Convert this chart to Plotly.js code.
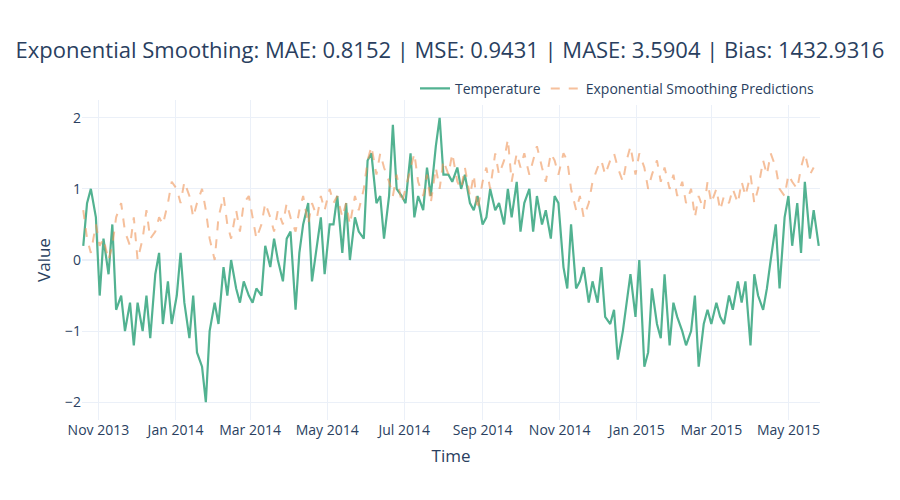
<!DOCTYPE html>
<html><head><script src="https://cdn.plot.ly/plotly-3.0.1.min.js"></script></head>
<body style="margin:0"><div id="c" style="width:900px;height:500px"></div>
<script>
const startDate = "2013-10-20";
const endDate = "2015-05-25";
const temperature = [
0.2,0.8,1.0,0.6,-0.5,0.3,-0.2,0.5,-0.7,-0.5,
-1.0,-0.6,-1.2,-0.6,-1.0,-0.5,-1.1,-0.2,0.1,
-0.9,-0.3,-0.9,-0.5,0.1,-0.6,-1.1,-0.5,-1.3,-1.5,-2.0,
-1.0,-0.6,-0.9,-0.1,-0.5,0.0,-0.4,-0.6,-0.3,
-0.5,-0.6,-0.4,-0.5,0.2,-0.1,0.3,0.0,-0.3,0.3,
0.4,-0.7,0.1,0.5,0.8,-0.3,0.2,0.6,-0.2,0.5,
0.5,0.9,0.1,0.8,0.0,0.6,0.4,0.3,1.4,
1.5,0.8,0.9,0.3,0.9,1.9,1.0,0.9,0.8,
1.5,0.6,0.9,0.7,1.3,0.9,1.6,2.0,1.2,1.2,
1.1,1.3,1.0,1.2,0.8,0.7,0.9,0.5,0.6,
1.0,0.7,0.8,0.5,1.0,0.6,1.1,0.4,0.8,
1.0,0.4,0.9,0.5,0.7,0.3,0.9,0.8,-0.1,-0.4,
0.5,-0.4,-0.3,-0.1,-0.6,-0.3,-0.6,-0.1,-0.8,
-0.9,-0.7,-1.4,-1.0,-0.6,-0.2,-0.8,0.0,-1.5,
-1.3,-0.4,-0.9,-1.1,-0.2,-1.2,-0.6,-0.8,-1.0,-1.2,
-1.0,-0.5,-1.5,-0.9,-0.7,-0.9,-0.6,-0.8,
-0.9,-0.5,-0.7,-0.3,-0.6,-0.3,-1.2,-0.2,-0.5,
-0.7,-0.4,0.0,0.5,-0.4,0.6,0.9,0.2,0.8,
0.1,1.1,0.3,0.7,0.2];
const predictions = [
0.7,0.3,0.1,0.5,0.2,0.3,0.0,0.2,0.6,0.8,
0.4,0.2,0.6,0.0,0.3,0.7,0.3,0.4,0.6,
0.5,0.8,1.1,1.0,0.8,1.1,0.9,0.6,0.8,1.0,0.7,
0.3,0.0,0.6,0.9,0.5,0.3,0.7,0.4,0.8,
0.9,0.6,0.3,0.5,0.8,0.6,0.4,0.7,0.5,
0.8,0.6,0.4,0.7,0.9,0.5,0.8,0.6,0.9,0.7,
1.0,0.8,0.9,0.6,0.8,0.5,0.9,0.7,1.0,
1.4,1.6,1.2,1.5,1.3,1.1,0.9,1.2,0.8,
1.0,1.3,1.5,1.1,0.9,1.2,0.8,1.3,1.0,1.4,
1.2,1.5,1.1,1.0,1.3,0.9,1.2,0.7,1.1,
1.3,1.0,1.5,1.2,1.4,1.7,1.1,1.5,1.3,
1.5,1.2,1.4,1.6,1.3,1.1,1.5,1.4,1.2,1.5,
1.4,1.0,0.7,0.9,0.6,0.8,1.1,1.3,1.4,
1.2,1.4,1.5,1.3,1.1,1.4,1.6,1.2,1.5,
1.3,1.0,1.2,1.4,1.1,1.3,1.0,1.2,0.9,1.1,
0.8,1.0,0.6,0.9,0.7,1.1,0.8,1.0,
0.7,0.9,0.8,1.0,0.8,1.1,0.9,1.2,0.8,
1.0,1.4,1.2,1.5,1.3,1.0,0.9,1.2,1.1,
1.0,1.3,1.5,1.2,1.3];
const t0 = Date.parse(startDate), t1 = Date.parse(endDate);
const n = temperature.length;
const dates = temperature.map((_, i) => new Date(t0 + (t1 - t0) * i / (n - 1)).toISOString().slice(0, 10));
Plotly.newPlot('c', [
 {x: dates, y: temperature, name: 'Temperature', mode: 'lines', line: {color: 'rgb(82,178,145)', width: 2.2}},
 {x: dates, y: predictions, name: 'Exponential Smoothing Predictions', mode: 'lines', opacity: 0.6, line: {color: 'rgb(240,150,90)', width: 2, dash: 'dash'}}
], {
 template: {layout: {}},
 paper_bgcolor: 'white', plot_bgcolor: 'white',
 font: {family: 'Open Sans, sans-serif', color: '#2a3f5f', size: 14},
 title: {text: 'Exponential Smoothing: MAE: 0.8152 | MSE: 0.9431 | MASE: 3.5904 | Bias: 1432.9316', x: 0.5, y: 0.9, xanchor: 'center', yanchor: 'middle', font: {size: 22}},
 margin: {l: 82, r: 80, t: 100, b: 80},
 legend: {orientation: 'h', x: 1, xanchor: 'right', y: 0.985, yanchor: 'bottom', font: {size: 14}},
 xaxis: {title: {text: 'Time', standoff: 12}, gridcolor: '#EBF0F8', dtick: 'M2', tickformat: '%b %Y', range: ['2013-10-19', '2015-05-26'], zeroline: false},
 yaxis: {title: {text: 'Value', standoff: 10}, gridcolor: '#EBF0F8', zerolinecolor: '#EBF0F8', zerolinewidth: 2, range: [-2.25, 2.25], dtick: 1}
}, {displayModeBar: false});
</script></body></html>
